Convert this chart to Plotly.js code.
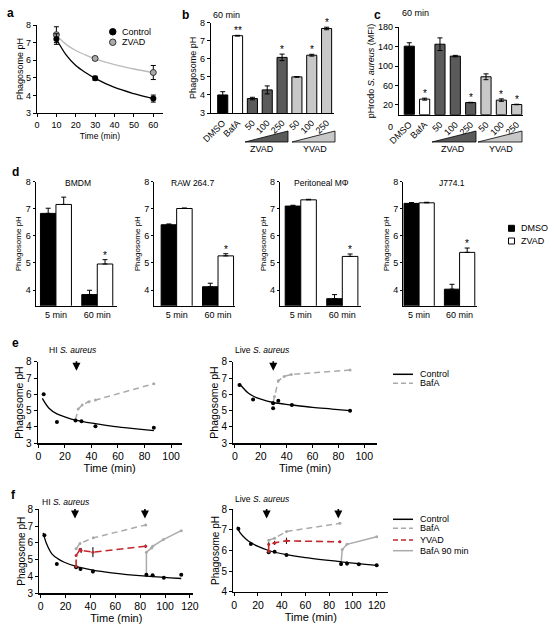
<!DOCTYPE html>
<html><head><meta charset="utf-8">
<script src="https://cdn.plot.ly/plotly-3.0.1.min.js"></script>
<style>html,body{margin:0;padding:0;background:#fff}#chart{width:554px;height:626px}</style>
</head><body><div id="chart"></div>
<script>
// ---------- DATA ----------
// panel a
const aTime = [10, 30, 60];
const aControl = [7.2, 4.97, 3.82];
const aControlErr = [0.3, 0.12, 0.2];
const aZvad = [7.45, 6.1, 5.3];
const aZvadErr = [0.45, 0.1, 0.4];
const aFitTime = [9, 10, 15, 20, 25, 30, 40, 50, 60];
const aControlFit = [7.4, 7.2, 6.3, 5.7, 5.3, 4.97, 4.45, 4.1, 3.82];
const aZvadFit = [7.5, 7.4, 6.9, 6.55, 6.3, 6.08, 5.75, 5.5, 5.3];
// panel b
const bLabels = ['DMSO', 'BafA', '50', '100', '250', '50', '100', '250'];
const bValues = [4.0, 7.28, 3.8, 4.28, 6.08, 5.0, 6.2, 7.68];
const bErr = [0.18, 0.02, 0.07, 0.22, 0.18, 0.02, 0.05, 0.07];
const bStars = ['', '**', '', '', '*', '', '*', '*'];
// panel c
const cLabels = ['DMSO', 'BafA', '50', '100', '250', '50', '100', '250'];
const cValues = [141, 32, 145, 120.5, 25, 78, 30, 21];
const cErr = [7, 2, 13, 1.5, 0.5, 6, 2.5, 0.5];
const cStars = ['', '*', '', '', '*', '', '*', '*'];
// panel d
const dTitles = ['BMDM', 'RAW 264.7', 'Peritoneal MΦ', 'J774.1'];
const dGroups = ['5 min', '60 min'];
const dDmso = [[6.83, 3.83], [6.41, 4.12], [7.1, 3.68], [7.2, 4.03]];
const dDmsoErr = [[0.19, 0.16], [0.03, 0.13], [0.03, 0.15], [0.03, 0.18]];
const dZvad = [[7.16, 4.96], [7.01, 5.26], [7.33, 5.24], [7.22, 5.39]];
const dZvadErr = [[0.27, 0.16], [0.02, 0.08], [0.02, 0.09], [0.02, 0.16]];
// panel e (HI and Live S. aureus)
const eHiTime = [4, 14, 28, 32.5, 43, 87];
const eHiCtrl = [6.0, 4.3, 4.4, 4.35, 4.05, 3.95];
const eHiFitTime = [3, 8, 14, 20, 28, 43, 58, 72, 87];
const eHiFit = [5.75, 5.15, 4.8, 4.62, 4.42, 4.2, 4.02, 3.9, 3.78];
const eHiBafTime = [28, 30, 33, 38, 43, 87];
const eHiBaf = [4.45, 5.1, 5.35, 5.55, 5.65, 6.65];
const eLiveTime = [3.5, 14, 29.5, 29.5, 33.5, 44, 89];
const eLiveCtrl = [6.57, 5.68, 5.45, 5.15, 5.6, 5.35, 5.0];
const eLiveFitTime = [3.5, 10, 15, 20, 29.5, 44, 60, 75, 89];
const eLiveFit = [6.65, 6.1, 5.85, 5.7, 5.5, 5.35, 5.2, 5.1, 5.0];
const eLiveBafTime = [29.5, 30.5, 33.5, 38, 43.5, 89];
const eLiveBaf = [5.5, 5.86, 6.83, 7.1, 7.22, 7.49];
// panel f
const fHiTime = [3, 13, 28.5, 32, 42, 85, 90, 99, 113];
const fHiCtrl = [6.45, 4.75, 4.55, 4.45, 4.3, 4.1, 4.08, 3.92, 4.1];
const fHiCtrlErr = [0.05, 0, 0.1, 0.12, 0.12, 0.05, 0, 0.05, 0];
const fHiFitTime = [2, 5, 9, 14, 19, 28.5, 42, 57, 85, 113];
const fHiFit = [6.6, 5.9, 5.35, 5.05, 4.85, 4.6, 4.38, 4.22, 4.02, 3.88];
const fHiBafTime = [28.5, 31.6, 42.3, 84.4];
const fHiBaf = [5.65, 5.97, 6.3, 7.07];
const fHiYvadTime = [28.5, 28.5, 31.6, 32.5, 42, 84.4];
const fHiYvad = [4.6, 5.25, 5.6, 5.55, 5.45, 5.8];
const fHiYvadErr = [0, 0, 0.1, 0.15, 0.3, 0.1];
const fHiBaf90Time = [85, 85, 89.2, 90, 98.6, 113];
const fHiBaf90 = [4.1, 5.45, 5.7, 5.8, 6.2, 6.73];
const fLiveTime = [3.5, 14, 29, 34, 44, 90, 95, 105, 120];
const fLiveCtrl = [7.05, 6.32, 5.92, 5.94, 5.78, 5.35, 5.37, 5.33, 5.28];
const fLiveCtrlErr = [0.05, 0, 0.05, 0.05, 0.05, 0.1, 0.1, 0, 0];
const fLiveFitTime = [2.5, 5, 10, 15, 20, 29, 44, 60, 90, 120];
const fLiveFit = [7.15, 6.85, 6.55, 6.35, 6.2, 6.0, 5.8, 5.65, 5.45, 5.28];
const fLiveBafTime = [29, 34, 44, 89];
const fLiveBaf = [6.5, 6.6, 6.92, 7.32];
const fLiveYvadTime = [29, 29, 34, 44, 89];
const fLiveYvad = [5.95, 6.3, 6.37, 6.47, 6.42];
const fLiveYvadErr = [0, 0.1, 0.1, 0.15, 0.05];
const fLiveBaf90Time = [90, 91, 95, 120];
const fLiveBaf90 = [5.35, 6.05, 6.3, 6.67];

// ---------- LAYOUT HELPERS ----------
const W = 554, H = 626;
const PX = x => x / W, PY = y => 1 - y / H;
const FONT = 'Liberation Sans, Arial, sans-serif';
function ax(x0, x1, range, extra) {
  return Object.assign({domain: [PX(x0), PX(x1)], range: range, showline: true, linecolor: '#000', linewidth: 1.2,
    ticks: 'outside', ticklen: 3, tickwidth: 1, tickcolor: '#000', showgrid: false, zeroline: false,
    tickfont: {size: 9, color: '#000'}, fixedrange: true}, extra || {});
}
function ay(ybot, ytop, range, extra) {
  return Object.assign({domain: [PY(ybot), PY(ytop)], range: range, showline: true, linecolor: '#000', linewidth: 1.2,
    ticks: 'outside', ticklen: 3, tickwidth: 1, tickcolor: '#000', showgrid: false, zeroline: false,
    tickfont: {size: 9, color: '#000'}, fixedrange: true}, extra || {});
}
const traces = [];
const annotations = [];
const shapes = [];
function txt(x, y, text, size, opts) {
  annotations.push(Object.assign({xref: 'paper', yref: 'paper', x: PX(x), y: PY(y), text: text, showarrow: false,
    font: {size: size, color: '#000', family: FONT}, xanchor: 'center', yanchor: 'middle'}, opts || {}));
}
const layout = {width: W, height: H, margin: {l: 0, r: 0, t: 0, b: 0}, paper_bgcolor: '#fff', plot_bgcolor: 'rgba(0,0,0,0)',
  showlegend: false, barmode: 'overlay', font: {family: FONT, color: '#000'}};

// ---------- PANEL a ----------
layout.xaxis = ax(37, 163, [0, 65], {anchor: 'y', tickvals: [0, 10, 20, 30, 40, 50, 60],
  title: {text: 'Time (min)', font: {size: 8.5}, standoff: 4}});
layout.yaxis = ay(113, 25, [3, 8], {anchor: 'x', dtick: 1, title: {text: 'Phagosome pH', font: {size: 9}, standoff: 0}});
traces.push({x: aFitTime, y: aZvadFit, xaxis: 'x', yaxis: 'y', mode: 'lines', line: {color: '#bbb', width: 1.3, shape: 'spline'}, hoverinfo: 'skip'});
traces.push({x: aFitTime, y: aControlFit, xaxis: 'x', yaxis: 'y', mode: 'lines', line: {color: '#000', width: 1.3, shape: 'spline'}, hoverinfo: 'skip'});
traces.push({x: aTime, y: aZvad, xaxis: 'x', yaxis: 'y', mode: 'markers', name: 'ZVAD',
  marker: {color: '#aaa', size: 6, line: {color: '#333', width: 1}},
  error_y: {type: 'data', array: aZvadErr, color: '#000', thickness: 1, width: 2.5}});
traces.push({x: aTime, y: aControl, xaxis: 'x', yaxis: 'y', mode: 'markers', name: 'Control',
  marker: {color: '#000', size: 6},
  error_y: {type: 'data', array: aControlErr, color: '#000', thickness: 1, width: 2.5}});
// legend a
shapes.push({type: 'circle', xref: 'paper', yref: 'paper', x0: PX(109.5), x1: PX(116), y0: PY(35), y1: PY(28.5), fillcolor: '#000', line: {color: '#000', width: 1}});
shapes.push({type: 'circle', xref: 'paper', yref: 'paper', x0: PX(109.5), x1: PX(116), y0: PY(45.5), y1: PY(39), fillcolor: '#aaa', line: {color: '#333', width: 1}});
txt(120, 31.5, 'Control', 9, {xanchor: 'left'});
txt(120, 42.3, 'ZVAD', 9, {xanchor: 'left'});

// ---------- PANEL b ----------
const bColors = ['#000', '#fff', '#5a5a5a', '#5a5a5a', '#5a5a5a', '#c8c8c8', '#c8c8c8', '#c8c8c8'];
const bIdx = bLabels.map((_, i) => i);
layout.xaxis2 = ax(211, 334, [-0.79, 7.5], {anchor: 'y2', tickvals: bIdx, ticktext: bLabels, tickangle: -45, ticks: ''});
layout.yaxis2 = ay(113, 22.7, [3, 8], {anchor: 'x2', dtick: 1, title: {text: 'Phagosome pH', font: {size: 9}, standoff: 1}});
traces.push({type: 'bar', x: bIdx, y: bValues, xaxis: 'x2', yaxis: 'y2', width: 0.68,
  marker: {color: bColors, line: {color: '#000', width: 1}},
  error_y: {type: 'data', array: bErr, color: '#000', thickness: 1, width: 2.5}});
bStars.forEach((s, i) => { if (s) annotations.push({xref: 'x2', yref: 'y2', x: i, y: bValues[i] + bErr[i], text: s, showarrow: false, yanchor: 'bottom', yshift: -3, font: {size: 10, color: '#000'}}); });
txt(226, 14.7, '60 min', 9);

// ---------- PANEL c ----------
const cIdx = cLabels.map((_, i) => i);
layout.xaxis3 = ax(399, 523, [-0.67, 7.41], {anchor: 'y3', tickvals: cIdx, ticktext: cLabels, tickangle: -45, ticks: ''});
layout.yaxis3 = ay(114.7, 27.2, [0, 180], {anchor: 'x3', tickvals: [20, 60, 100, 140, 180],
  title: {text: 'pHrodo <i>S. aureus</i> (MFI)', font: {size: 9}, standoff: 1}});
traces.push({type: 'bar', x: cIdx, y: cValues, xaxis: 'x3', yaxis: 'y3', width: 0.66,
  marker: {color: bColors, line: {color: '#000', width: 1}},
  error_y: {type: 'data', array: cErr, color: '#000', thickness: 1, width: 2.5}});
cStars.forEach((s, i) => { if (s) annotations.push({xref: 'x3', yref: 'y3', x: i, y: cValues[i] + cErr[i], text: s, showarrow: false, yanchor: 'bottom', yshift: -3, font: {size: 10, color: '#000'}}); });
txt(415.5, 13.3, '60 min', 9);
txt(390, 127, '0', 9);

// triangles under b and c
function tri(x0, x1, yb, yt, fill) {
  shapes.push({type: 'path', xref: 'paper', yref: 'paper',
    path: `M ${PX(x0)},${PY(yb)} L ${PX(x1)},${PY(yb)} L ${PX(x1)},${PY(yt)} Z`, fillcolor: fill, line: {color: '#000', width: 0.8}});
}
tri(245, 288, 142, 131, '#5a5a5a'); tri(292, 335, 142, 131, '#c8c8c8');
tri(432, 476, 142, 131, '#5a5a5a'); tri(478, 522, 142, 131, '#c8c8c8');
txt(262, 148.5, 'ZVAD', 9); txt(315, 148.5, 'YVAD', 9);
txt(453, 149, 'ZVAD', 9); txt(501, 149, 'YVAD', 9);

// ---------- PANEL d ----------
const dDom = [[35.7, 116.7, [-0.49, 1.47]], [154.3, 235, [-0.54, 1.41]], [280, 361, [-0.5, 1.45]], [403.3, 477, [-0.39, 1.43]]];
const dTitleX = [77.7, 192.5, 321.7, 452.3];
dTitles.forEach((t, k) => {
  const n = 4 + k;
  layout['xaxis' + n] = ax(dDom[k][0], dDom[k][1], dDom[k][2], {anchor: 'y' + n, tickvals: [0, 1], ticktext: dGroups, ticks: '', tickfont: {size: 9, color: '#000'}});
  layout['yaxis' + n] = ay(305.7, 181.7, [3.42, 8], {anchor: 'x' + n, tickvals: [4, 5, 6, 7, 8], ticklen: 2, tickfont: {size: 9, color: '#000'},
    title: {text: 'Phagosome pH', font: {size: 8}, standoff: 2}});
  traces.push({type: 'bar', x: [0, 1], y: dDmso[k], xaxis: 'x' + n, yaxis: 'y' + n, width: 0.375, offset: -0.375,
    marker: {color: '#000', line: {color: '#000', width: 1}},
    error_y: {type: 'data', symmetric: false, array: dDmsoErr[k], arrayminus: [0, 0], color: '#000', thickness: 1, width: 2.5}});
  traces.push({type: 'bar', x: [0, 1], y: dZvad[k], xaxis: 'x' + n, yaxis: 'y' + n, width: 0.375, offset: 0,
    marker: {color: '#fff', line: {color: '#000', width: 1}},
    error_y: {type: 'data', symmetric: false, array: dZvadErr[k], arrayminus: [0, 0], color: '#000', thickness: 1, width: 2.5}});
  annotations.push({xref: 'x' + n, yref: 'y' + n, x: 1.1875, y: dZvad[k][1] + dZvadErr[k][1], text: '*', showarrow: false, yanchor: 'bottom', yshift: -3, font: {size: 10, color: '#000'}});
  txt(dTitleX[k], 182.5, t, 8.5);
});
// legend d
shapes.push({type: 'rect', xref: 'paper', yref: 'paper', x0: PX(508.5), x1: PX(514.5), y0: PY(231.3), y1: PY(225.3), fillcolor: '#000', line: {color: '#000', width: 1}});
shapes.push({type: 'rect', xref: 'paper', yref: 'paper', x0: PX(508.5), x1: PX(514.5), y0: PY(244), y1: PY(238), fillcolor: '#fff', line: {color: '#000', width: 1}});
txt(518.5, 228.3, 'DMSO', 9, {xanchor: 'left'});
txt(518.5, 241, 'ZVAD', 9, {xanchor: 'left'});

// ---------- PANEL e ----------
const eyT = {text: 'Phagosome pH', font: {size: 10.5}, standoff: 0};
const exT = {text: 'Time (min)', font: {size: 11}, standoff: 3};
layout.xaxis8 = ax(37.7, 181.7, [-0.5, 108], {anchor: 'y8', tickvals: [0, 20, 40, 60, 80, 100], tickfont: {size: 10.5, color: '#000'}, title: exT});
layout.yaxis8 = ay(443.3, 361.7, [3, 8], {anchor: 'x8', dtick: 1, tickfont: {size: 10, color: '#000'}, title: eyT});
layout.xaxis9 = ax(233.3, 376.7, [-1.3, 109.6], {anchor: 'y9', tickvals: [0, 20, 40, 60, 80, 100], tickfont: {size: 10.5, color: '#000'}, title: exT});
layout.yaxis9 = ay(443.3, 361.7, [3, 8], {anchor: 'x9', dtick: 1, tickfont: {size: 10, color: '#000'}, title: eyT});
traces.push({x: eHiBafTime, y: eHiBaf, xaxis: 'x8', yaxis: 'y8', mode: 'lines+markers', line: {color: '#aaa', width: 1.5, dash: '6px,4px'}, marker: {color: '#aaa', size: 3}});
traces.push({x: eHiFitTime, y: eHiFit, xaxis: 'x8', yaxis: 'y8', mode: 'lines', line: {color: '#000', width: 1.3, shape: 'spline'}});
traces.push({x: eHiTime, y: eHiCtrl, xaxis: 'x8', yaxis: 'y8', mode: 'markers', marker: {color: '#000', size: 4}});
traces.push({x: eLiveBafTime, y: eLiveBaf, xaxis: 'x9', yaxis: 'y9', mode: 'lines+markers', line: {color: '#aaa', width: 1.5, dash: '6px,4px'}, marker: {color: '#aaa', size: 3}});
traces.push({x: eLiveFitTime, y: eLiveFit, xaxis: 'x9', yaxis: 'y9', mode: 'lines', line: {color: '#000', width: 1.3, shape: 'spline'}});
traces.push({x: eLiveTime, y: eLiveCtrl, xaxis: 'x9', yaxis: 'y9', mode: 'markers', marker: {color: '#000', size: 4}});
function arrow(xr, yr, x, y) {
  annotations.push({xref: xr, yref: yr, x: x, y: y, ax: 0, ay: -11, text: '', showarrow: true, arrowhead: 2, arrowsize: 1, arrowwidth: 1.6, arrowcolor: '#000'});
}
arrow('x8', 'y8', 28.7, 7.45); arrow('x9', 'y9', 29.6, 7.45);
txt(46.7, 350, 'HI <i>S. aureus</i>', 8.5, {xanchor: 'left'});
txt(232.7, 350, 'Live <i>S. aureus</i>', 8.5, {xanchor: 'left'});
// legend e
function legLine(y, color, dash, width, label) {
  shapes.push({type: 'line', xref: 'paper', yref: 'paper', x0: PX(393), x1: PX(413), y0: PY(y), y1: PY(y), line: {color: color, width: width, dash: dash}});
  txt(417.5, y, label, 9, {xanchor: 'left'});
}
legLine(374.3, '#000', 'solid', 1.5, 'Control');
legLine(383.3, '#aaa', '5px,3px', 1.5, 'BafA');

// ---------- PANEL f ----------
layout.xaxis10 = ax(39.3, 193.3, [-1.1, 122.7], {anchor: 'y10', tickvals: [0, 20, 40, 60, 80, 100, 120], tickfont: {size: 10.5, color: '#000'}, title: exT});
layout.yaxis10 = ay(593.3, 509.3, [3, 8], {anchor: 'x10', dtick: 1, tickfont: {size: 10, color: '#000'}, title: {text: 'Phagosome pH', font: {size: 10}, standoff: 0}});
layout.xaxis11 = ax(233.3, 388.3, [-0.8, 129.8], {anchor: 'y11', tickvals: [0, 20, 40, 60, 80, 100, 120], tickfont: {size: 10.5, color: '#000'}, title: exT});
layout.yaxis11 = ay(591.7, 509.3, [4, 8], {anchor: 'x11', dtick: 1, tickfont: {size: 10, color: '#000'}, title: {text: 'Phagosome pH', font: {size: 10}, standoff: 0}});
const RED = '#c1272d';
// HI
traces.push({x: fHiBafTime, y: fHiBaf, xaxis: 'x10', yaxis: 'y10', mode: 'lines+markers', line: {color: '#aaa', width: 1.5, dash: '6px,4px'}, marker: {color: '#aaa', size: 3}});
traces.push({x: fHiBaf90Time, y: fHiBaf90, xaxis: 'x10', yaxis: 'y10', mode: 'lines+markers', line: {color: '#aaa', width: 1.5}, marker: {color: '#aaa', size: 3}});
traces.push({x: fHiFitTime, y: fHiFit, xaxis: 'x10', yaxis: 'y10', mode: 'lines', line: {color: '#000', width: 1.3, shape: 'spline'}});
traces.push({x: fHiTime, y: fHiCtrl, xaxis: 'x10', yaxis: 'y10', mode: 'markers', marker: {color: '#000', size: 4},
  error_y: {type: 'data', array: fHiCtrlErr, color: '#000', thickness: 1, width: 0}});
traces.push({x: fHiYvadTime, y: fHiYvad, xaxis: 'x10', yaxis: 'y10', mode: 'lines+markers', line: {color: RED, width: 1.6, dash: '7px,4px'}, marker: {color: RED, size: 3},
  error_y: {type: 'data', array: fHiYvadErr, color: '#000', thickness: 1, width: 0}});
// Live
traces.push({x: fLiveBafTime, y: fLiveBaf, xaxis: 'x11', yaxis: 'y11', mode: 'lines+markers', line: {color: '#aaa', width: 1.5, dash: '6px,4px'}, marker: {color: '#aaa', size: 3}});
traces.push({x: fLiveBaf90Time, y: fLiveBaf90, xaxis: 'x11', yaxis: 'y11', mode: 'lines+markers', line: {color: '#aaa', width: 1.5}, marker: {color: '#aaa', size: 3}});
traces.push({x: fLiveFitTime, y: fLiveFit, xaxis: 'x11', yaxis: 'y11', mode: 'lines', line: {color: '#000', width: 1.3, shape: 'spline'}});
traces.push({x: fLiveTime, y: fLiveCtrl, xaxis: 'x11', yaxis: 'y11', mode: 'markers', marker: {color: '#000', size: 4},
  error_y: {type: 'data', array: fLiveCtrlErr, color: '#000', thickness: 1, width: 0}});
traces.push({x: fLiveYvadTime, y: fLiveYvad, xaxis: 'x11', yaxis: 'y11', mode: 'lines+markers', line: {color: RED, width: 1.6, dash: '7px,4px'}, marker: {color: RED, size: 3},
  error_y: {type: 'data', array: fLiveYvadErr, color: '#000', thickness: 1, width: 0}});
arrow('x10', 'y10', 27.6, 7.45); arrow('x10', 'y10', 83.8, 7.45);
arrow('x11', 'y11', 27.3, 7.55); arrow('x11', 'y11', 87.7, 7.55);
txt(40, 501.7, 'HI <i>S. aureus</i>', 8.5, {xanchor: 'left'});
txt(232.7, 499.3, 'Live <i>S. aureus</i>', 8.5, {xanchor: 'left'});
legLine(519.3, '#000', 'solid', 1.5, 'Control');
legLine(528.3, '#aaa', '5px,3px', 1.5, 'BafA');
legLine(540, RED, '5px,3px', 1.6, 'YVAD');
legLine(550.7, '#aaa', 'solid', 1.5, 'BafA 90 min');

// panel letters
[['a', 10, 13], ['b', 185, 15], ['c', 377, 15], ['d', 15, 172], ['e', 15, 343], ['f', 13, 495]].forEach(p => {
  txt(p[1], p[2], '<b>' + p[0] + '</b>', 12);
});

layout.annotations = annotations;
layout.shapes = shapes;
traces.forEach(t => { if (!t.type) t.type = 'scatter'; t.hoverinfo = 'skip'; t.cliponaxis = false; });
Plotly.newPlot('chart', traces, layout, {staticPlot: true, displayModeBar: false});
</script>
</body></html>
